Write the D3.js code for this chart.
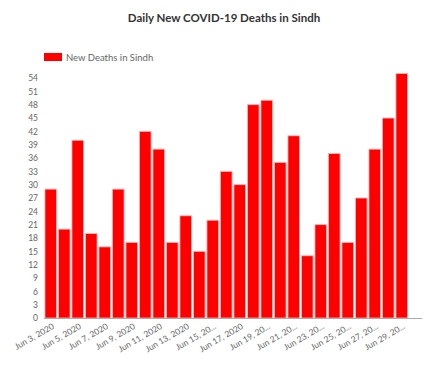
<!DOCTYPE html>
<html><head><meta charset="utf-8">
<script src="https://cdn.jsdelivr.net/npm/d3@7"></script>
<style>body{margin:0;background:#fff}svg{display:block}</style>
</head><body>
<svg id="c" width="436" height="366"></svg>
<script>
const categories = ["Jun 3, 2020","Jun 4, 2020","Jun 5, 2020","Jun 6, 2020","Jun 7, 2020","Jun 8, 2020","Jun 9, 2020","Jun 10, 2020","Jun 11, 2020","Jun 12, 2020","Jun 13, 2020","Jun 14, 2020","Jun 15, 2020","Jun 16, 2020","Jun 17, 2020","Jun 18, 2020","Jun 19, 2020","Jun 20, 2020","Jun 21, 2020","Jun 22, 2020","Jun 23, 2020","Jun 24, 2020","Jun 25, 2020","Jun 26, 2020","Jun 27, 2020","Jun 28, 2020","Jun 29, 2020","Jun 30, 2020"];
const deaths = [29,20,40,19,16,29,17,42,38,17,23,15,22,33,30,48,49,35,41,14,21,37,17,27,38,45,55,null];
const xTickLabels = ["Jun 3, 2020","Jun 5, 2020","Jun 7, 2020","Jun 9, 2020","Jun 11, 2020","Jun 13, 2020","Jun 15, 20...","Jun 17, 2020","Jun 19, 20...","Jun 21, 20...","Jun 23, 20...","Jun 25, 20...","Jun 27, 20...","Jun 29, 20..."];
const yTicks = [0,3,6,9,12,15,18,21,24,27,30,33,36,39,42,45,48,51,54];
const title = "Daily New COVID-19 Deaths in Sindh";
const seriesName = "New Deaths in Sindh";

const svg = d3.select("#c");
const font = "Lato, 'Noto Sans', sans-serif";
const x = d3.scaleBand().domain(categories).range([44, 422]).paddingInner(0.14).paddingOuter(0.07);
const y = d3.scaleLinear().domain([0, 55]).range([318, 73.6]);

svg.append("text").attr("x", 224).attr("y", 22).attr("text-anchor", "middle")
  .attr("font-family", font).attr("font-weight", "bold").attr("font-size", 11.5).attr("fill", "#333").text(title);

// legend
svg.append("rect").attr("x", 44).attr("y", 53).attr("width", 18).attr("height", 8).attr("fill", "#ff0000");
svg.append("text").attr("x", 66).attr("y", 61).attr("font-family", font).attr("font-size", 9.5).attr("fill", "#666").text(seriesName);

// bars
svg.append("g").selectAll("rect").data(categories.map((c, i) => ({c, v: deaths[i]})).filter(d => d.v != null))
  .join("rect")
  .attr("x", d => x(d.c)).attr("width", x.bandwidth())
  .attr("y", d => y(d.v)).attr("height", d => y(0) - y(d.v))
  .attr("fill", "#ff0000").attr("stroke", "#ffb3b3").attr("stroke-width", 0.8);

// y axis
const yAxis = d3.axisLeft(y).tickValues(yTicks).tickSize(0).tickPadding(0);
const gy = svg.append("g").attr("transform", "translate(38,0)").call(yAxis);
gy.select(".domain").remove();
gy.selectAll("text").attr("font-family", font).attr("font-size", 8.5).attr("fill", "#666");

// x axis
const shown = categories.filter((c, i) => i % 2 === 0);
const labelMap = new Map(shown.map((c, i) => [c, xTickLabels[i]]));
const xAxis = d3.axisBottom(x).tickValues(shown).tickSize(0).tickFormat(c => labelMap.get(c));
const gx = svg.append("g").attr("transform", "translate(0,318)").call(xAxis);
gx.select(".domain").attr("stroke", "#aaa").attr("d", "M44,0.5H422");
gx.selectAll("text").attr("font-family", font).attr("font-size", 8.5).attr("fill", "#666")
  .attr("text-anchor", "end").attr("dy", 0).attr("y", 0)
  .attr("transform", "translate(4,10) rotate(-30)");
</script>
</body></html>
